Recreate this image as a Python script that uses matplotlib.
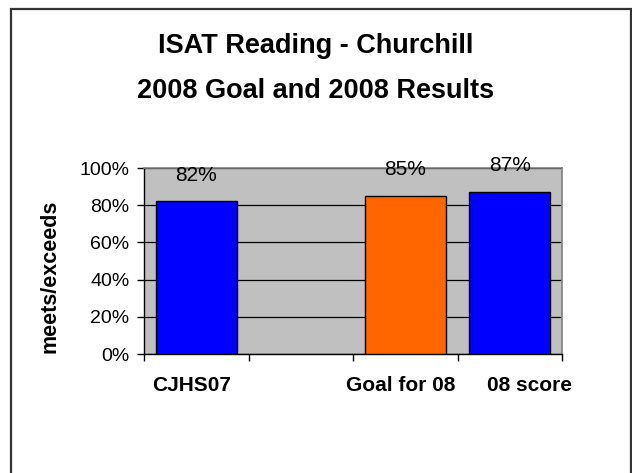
import matplotlib
matplotlib.use("Agg")
import matplotlib.pyplot as plt
from matplotlib.patches import Rectangle
from matplotlib.ticker import FixedLocator

plt.rcParams["font.family"] = ["Liberation Sans", "DejaVu Sans"]

# data
categories = ["CJHS07", "", "Goal for 08", "08 score"]
values = [0.82, None, 0.85, 0.87]
bar_colors = ["#0000FF", None, "#FF6600", "#0000FF"]
y_ticks = [0, 0.2, 0.4, 0.6, 0.8, 1.0]
y_tick_labels = ["0%", "20%", "40%", "60%", "80%", "100%"]

fig = plt.figure(figsize=(6.32, 4.73), dpi=100)
fig.patch.set_facecolor("white")

# outer chart border
fig.add_artist(Rectangle((11 / 632, -0.02), 620 / 632, 1 - 9 / 473 + 0.02,
                         transform=fig.transFigure, fill=False,
                         edgecolor="#333333", linewidth=1.6))

ax = fig.add_axes([144 / 632, 1 - 354 / 473, 418 / 632, 186 / 473])
ax.set_facecolor("#C0C0C0")

xs = list(range(len(categories)))
for x, v, c in zip(xs, values, bar_colors):
    if v is None:
        continue
    ax.bar(x, v, width=0.775, color=c, edgecolor="black", linewidth=1.0, zorder=3)
    ax.annotate(f"{round(v * 100)}%", (x, v), xytext=(0, 19),
                textcoords="offset points", ha="center", va="center",
                fontsize=15, annotation_clip=False, zorder=4)

ax.set_xlim(-0.5, len(categories) - 0.5)
ax.set_ylim(0, 1.0)

ax.set_yticks(y_ticks)
ax.set_yticklabels(y_tick_labels, fontsize=14)
ax.yaxis.grid(True, color="black", linewidth=0.9, zorder=1)
ax.set_axisbelow(True)

# category labels; Excel nudges the crowded ones apart
ax.set_xticks(xs)
ax.set_xticklabels([])
ax.tick_params(axis="x", which="major", length=0)
for x, cat, dx in zip(xs, categories, [-3.6, 0, -3.6, 14.4]):
    ax.annotate(cat, (x, 0), xycoords=("data", "axes fraction"),
                xytext=(dx, -23), textcoords="offset points",
                ha="center", va="center", fontsize=15, fontweight="bold",
                annotation_clip=False)
ax.xaxis.set_minor_locator(FixedLocator([x - 0.5 for x in xs] + [len(xs) - 0.5]))
ax.tick_params(axis="x", which="minor", length=5, width=1.0, direction="out")
ax.tick_params(axis="y", length=5, width=1.0, direction="out", pad=5.5)

for side in ("top", "right"):
    ax.spines[side].set_color("#808080")
    ax.spines[side].set_linewidth(1.2)
for side in ("left", "bottom"):
    ax.spines[side].set_color("black")
    ax.spines[side].set_linewidth(1.0)

fig.text(50 / 632, 1 - 276 / 473, "meets/exceeds", rotation=90, ha="center",
         va="center", fontsize=15.5, fontweight="bold")

fig.text(0.5, 1 - 46 / 473, "ISAT Reading - Churchill", ha="center", va="center",
         fontsize=19.5, fontweight="bold")
fig.text(0.5, 1 - 91 / 473, "2008 Goal and 2008 Results", ha="center", va="center",
         fontsize=19.5, fontweight="bold")

fig.savefig("out.png", dpi=100, facecolor="white")
